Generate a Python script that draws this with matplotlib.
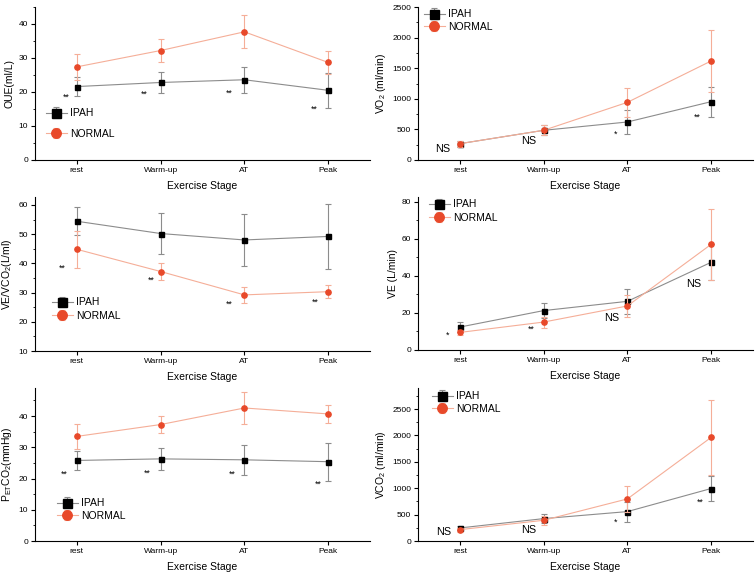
import matplotlib
matplotlib.use("Agg")
import matplotlib.pyplot as plt
from matplotlib.ticker import MultipleLocator

plt.rcParams['font.family'] = ['Liberation Sans', 'DejaVu Sans']
plt.rcParams['mathtext.default'] = 'regular'

W, H = 756, 577

stages = ["rest", "Warm-up", "AT", "Peak"]
xpos = [1, 2, 3, 4]

# OUE
oue_ipah = [21.6, 22.8, 23.6, 20.5]
oue_ipah_err = [2.8, 3.1, 3.9, 5.2]
oue_norm = [27.4, 32.2, 37.7, 28.7]
oue_norm_err = [3.8, 3.3, 4.9, 3.3]

# VO2
vo2_ipah = [267, 485, 621, 953]
vo2_ipah_err = [50, 80, 195, 245]
vo2_norm = [267, 485, 942, 1618]
vo2_norm_err = [50, 80, 234, 510]

# VE/VCO2
vevco2_ipah = [54.4, 50.2, 48.0, 49.2]
vevco2_ipah_err = [4.8, 7.0, 8.9, 11.0]
vevco2_norm = [44.8, 37.2, 29.2, 30.3]
vevco2_norm_err = [6.3, 2.9, 2.7, 2.2]

# VE
ve_ipah = [12.4, 21.3, 26.3, 47.4]
ve_ipah_err = [2.6, 4.1, 6.7, 9.7]
ve_norm = [9.5, 15.1, 23.8, 57.1]
ve_norm_err = [1.5, 3.0, 5.9, 19.2]

# PETCO2
petco2_ipah = [25.8, 26.3, 26.0, 25.4]
petco2_ipah_err = [3.0, 3.5, 4.8, 6.1]
petco2_norm = [33.5, 37.3, 42.6, 40.7]
petco2_norm_err = [4.1, 2.8, 5.0, 2.8]

# VCO2
vco2_ipah = [247, 424, 557, 994]
vco2_ipah_err = [40, 80, 190, 235]
vco2_norm = [215, 392, 797, 1962]
vco2_norm_err = [40, 80, 240, 705]

# significance marks: (text, x, y)
oue_marks = [("**", 0.87, 18.4), ("**", 1.80, 19.4), ("**", 2.82, 19.7), ("**", 3.83, 15.0)]
vo2_marks = [("NS", 0.79, 180), ("NS", 1.82, 305), ("*", 2.86, 414), ("**", 3.83, 703)]
vevco2_marks = [("**", 0.83, 38.3), ("**", 1.89, 34.3), ("**", 2.82, 26.1), ("**", 3.84, 26.7)]
ve_marks = [("*", 0.85, 7.9), ("**", 1.85, 11.4), ("NS", 2.81, 17.3), ("NS", 3.79, 35.7)]
petco2_marks = [("**", 0.85, 21.5), ("**", 1.84, 21.8), ("**", 2.86, 21.5), ("**", 3.88, 18.1)]
vco2_marks = [("NS", 0.81, 171), ("NS", 1.82, 215), ("*", 2.86, 361), ("**", 3.87, 728)]

IPAH_LINE = "#8c8c8c"
NORM_LINE = "#f5ae98"
NORM_MARK = "#e8492a"

fig = plt.figure(figsize=(W / 100, H / 100), dpi=100)


def make_axes(l, b, r, t):
    return fig.add_axes([l / W, 1 - b / H, (r - l) / W, (b - t) / H])


def panel(box, ipah, ipah_err, norm, norm_err, ylim, major, minor, ylabel,
          marks, leg_x, leg_y, leg_space):
    ax = make_axes(*box)
    ax.errorbar(xpos, ipah, yerr=ipah_err, color=IPAH_LINE, lw=0.8,
                elinewidth=0.8, capsize=2.5, capthick=0.8, marker="s",
                ms=3.6, mfc="black", mec="black", label="IPAH", zorder=2)
    ax.errorbar(xpos, norm, yerr=norm_err, color=NORM_LINE, lw=0.8,
                elinewidth=0.8, capsize=2.5, capthick=0.8, marker="o",
                ms=3.8, mfc=NORM_MARK, mec=NORM_MARK, label="NORMAL", zorder=3)
    for txt, mx, my in marks:
        size = 7.8 if txt == "NS" else 6.3
        ax.text(mx, my, txt, fontsize=size, ha="center", va="center")
    ax.set_xlim(0.5, 4.5)
    ax.set_ylim(*ylim)
    ax.set_xticks(xpos)
    ax.set_xticklabels(stages)
    ax.yaxis.set_major_locator(MultipleLocator(major))
    ax.yaxis.set_minor_locator(MultipleLocator(minor))
    ax.tick_params(axis="both", which="major", direction="out", length=3,
                   width=0.8, labelsize=6, pad=2)
    ax.tick_params(axis="y", which="minor", direction="out", length=1.8, width=0.6)
    ax.tick_params(axis="x", which="minor", bottom=False)
    ax.spines["top"].set_visible(False)
    ax.spines["right"].set_visible(False)
    ax.spines["left"].set_linewidth(0.8)
    ax.spines["bottom"].set_linewidth(0.8)
    ax.set_xlabel("Exercise Stage", fontsize=7.5, labelpad=5)
    ax.set_ylabel(ylabel, fontsize=7.5, labelpad=3)
    l, b, r, t = box
    fx = (leg_x - l) / (r - l)
    fy = (b - leg_y) / (b - t)
    ax.legend(loc="center left", bbox_to_anchor=(fx, fy), frameon=False,
              fontsize=7.5, markerscale=1.8, handlelength=2.0,
              handletextpad=0.3, borderpad=0, borderaxespad=0,
              labelspacing=leg_space)
    return ax


panel((35, 160, 370, 7), oue_ipah, oue_ipah_err, oue_norm, oue_norm_err,
      (0, 45), 10, 5, "OUE(ml/L)", oue_marks, 46, 123.5, 1.0)
panel((418, 160, 753, 7), vo2_ipah, vo2_ipah_err, vo2_norm, vo2_norm_err,
      (0, 2500), 500, 250, "VO$_2$ (ml/min)", vo2_marks, 424, 20.5, 0.25)
panel((35, 351, 370, 197), vevco2_ipah, vevco2_ipah_err, vevco2_norm, vevco2_norm_err,
      (10, 62.7), 10, 5, "VE/VCO$_2$(L/ml)", vevco2_marks, 52, 309, 0.3)
panel((418, 350, 753, 197), ve_ipah, ve_ipah_err, ve_norm, ve_norm_err,
      (0, 82.7), 20, 10, "VE (L/min)", ve_marks, 429, 211, 0.3)
panel((35, 541, 370, 388), petco2_ipah, petco2_ipah_err, petco2_norm, petco2_norm_err,
      (0, 49), 10, 5, "P$_{ET}$CO$_2$(mmHg)", petco2_marks, 57, 509.5, 0.25)
panel((418, 541, 753, 388), vco2_ipah, vco2_ipah_err, vco2_norm, vco2_norm_err,
      (0, 2898), 500, 250, "VCO$_2$ (ml/min)", vco2_marks, 432, 402.5, 0.25)

fig.savefig("out.png", dpi=100)
